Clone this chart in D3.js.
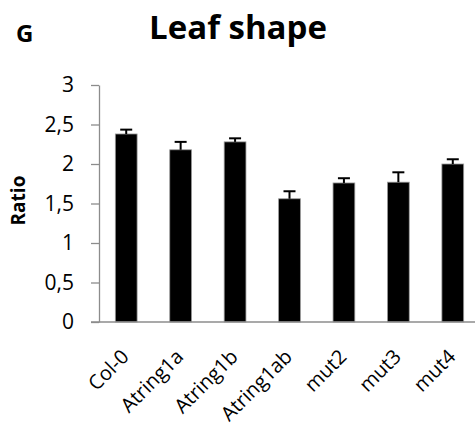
<!DOCTYPE html>
<html>
<head>
<meta charset="utf-8">
<script src="https://cdn.jsdelivr.net/npm/d3@7"></script>
<style>
  html, body { margin: 0; padding: 0; background: #fff; }
  svg { display: block; font-family: "Open Sans", sans-serif; }
</style>
</head>
<body>
<svg id="chart" width="475" height="434"></svg>
<script>
// Leaf shape ratio per genotype (mean with standard error)
const genotypes = ["Col-0", "Atring1a", "Atring1b", "Atring1ab", "mut2", "mut3", "mut4"];
const ratios    = [2.38, 2.18, 2.28, 1.56, 1.76, 1.77, 2.00];
const errors    = [0.055, 0.10, 0.045, 0.095, 0.06, 0.125, 0.06];
const yTicks    = [0, 0.5, 1, 1.5, 2, 2.5, 3];

const svg = d3.select("#chart");
const margin = { left: 99, top: 85, bottom: 322, right: 480 };

const x = d3.scaleBand()
  .domain(genotypes)
  .range([margin.left, margin.right])
  .paddingInner(0.6)
  .paddingOuter(0.3);

const y = d3.scaleLinear().domain([0, 3]).range([margin.bottom, margin.top]);

const fmt = d => String(d).replace(".", ",");
const axisGrey = "#8c8c8c";

// Y axis
const yAxis = svg.append("g")
  .attr("transform", `translate(${margin.left},0)`)
  .call(d3.axisLeft(y).tickValues(yTicks).tickFormat(fmt).tickSize(8).tickSizeOuter(0).tickPadding(17));
yAxis.select(".domain").attr("stroke", axisGrey).attr("stroke-width", 1.3);
yAxis.selectAll(".tick line").attr("stroke", axisGrey).attr("stroke-width", 1.3);
yAxis.selectAll(".tick text")
  .attr("font-size", 21).attr("fill", "#000")
  .attr("font-family", "Open Sans, sans-serif");

// Bars
svg.append("g").selectAll("rect")
  .data(genotypes)
  .join("rect")
  .attr("x", d => x(d))
  .attr("width", x.bandwidth())
  .attr("y", (d, i) => y(ratios[i]))
  .attr("height", (d, i) => y(0) - y(ratios[i]))
  .attr("fill", "#000")
  .attr("stroke", "#9a9a9a")
  .attr("stroke-width", 0.8);

// Error bars (upper half only)
const eb = svg.append("g").attr("stroke", "#000").attr("stroke-width", 2);
genotypes.forEach((g, i) => {
  const cx = x(g) + x.bandwidth() / 2;
  eb.append("line")
    .attr("x1", cx).attr("x2", cx)
    .attr("y1", y(ratios[i])).attr("y2", y(ratios[i] + errors[i]));
  eb.append("line")
    .attr("x1", cx - 6).attr("x2", cx + 6)
    .attr("y1", y(ratios[i] + errors[i])).attr("y2", y(ratios[i] + errors[i]));
});

// X axis line at zero
svg.append("line")
  .attr("x1", margin.left - 8).attr("x2", 475)
  .attr("y1", y(0)).attr("y2", y(0))
  .attr("stroke", axisGrey).attr("stroke-width", 1.3);

// Category labels, rotated
svg.append("g").selectAll("text")
  .data(genotypes)
  .join("text")
  .attr("transform", d => `translate(${x(d) + x.bandwidth() / 2 + 4},${y(0) + 36}) rotate(-45)`)
  .attr("text-anchor", "end")
  .attr("font-size", 20)
  .attr("fill", "#000")
  .text(d => d);

// Y axis title
svg.append("text")
  .attr("transform", `translate(25,${(y(0) + y(3)) / 2 - 3}) rotate(-90)`)
  .attr("text-anchor", "middle")
  .attr("font-size", 19)
  .attr("font-weight", "bold")
  .text("Ratio");

// Chart title and panel letter
svg.append("text")
  .attr("x", 238).attr("y", 39)
  .attr("text-anchor", "middle")
  .attr("font-size", 33)
  .attr("font-weight", "bold")
  .text("Leaf shape");

svg.append("text")
  .attr("x", 16).attr("y", 42)
  .attr("font-size", 24)
  .attr("font-weight", "bold")
  .text("G");
</script>
</body>
</html>
